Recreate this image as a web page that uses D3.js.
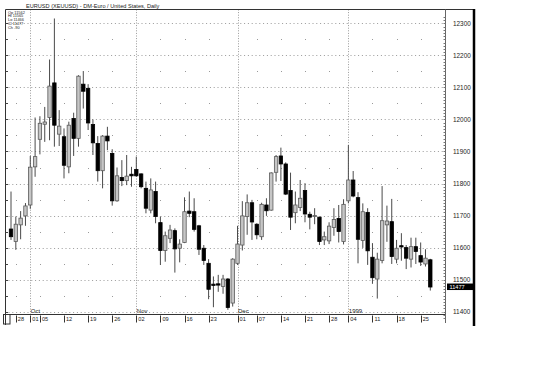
<!DOCTYPE html>
<html><head><meta charset="utf-8">
<script src="https://cdn.jsdelivr.net/npm/d3@7"></script>
<style>body{margin:0;background:#fff}svg{display:block;font-family:"Liberation Sans",Arial,sans-serif}</style>
</head><body><svg id="c" width="548" height="367"></svg>
<script>
const title = "EURUSD (XEUUSD) - DM-Euro / United States, Daily";
const dates = ["1998-09-25",
"1998-09-28","1998-09-29","1998-09-30","1998-10-01","1998-10-02",
"1998-10-05","1998-10-06","1998-10-07","1998-10-08","1998-10-09",
"1998-10-12","1998-10-13","1998-10-14","1998-10-15","1998-10-16",
"1998-10-19","1998-10-20","1998-10-21","1998-10-22","1998-10-23",
"1998-10-26","1998-10-27","1998-10-28","1998-10-29","1998-10-30",
"1998-11-02","1998-11-03","1998-11-04","1998-11-05","1998-11-06",
"1998-11-09","1998-11-10","1998-11-11","1998-11-12","1998-11-13",
"1998-11-16","1998-11-17","1998-11-18","1998-11-19","1998-11-20",
"1998-11-23","1998-11-24","1998-11-25","1998-11-26","1998-11-27",
"1998-11-30","1998-12-01","1998-12-02","1998-12-03","1998-12-04",
"1998-12-07","1998-12-08","1998-12-09","1998-12-10","1998-12-11",
"1998-12-14","1998-12-15","1998-12-16","1998-12-17","1998-12-18",
"1998-12-21","1998-12-22","1998-12-23","1998-12-24","1998-12-25",
"1998-12-28","1998-12-29","1998-12-30","1998-12-31",
"1999-01-04","1999-01-05","1999-01-06","1999-01-07","1999-01-08",
"1999-01-11","1999-01-12","1999-01-13","1999-01-14","1999-01-15",
"1999-01-18","1999-01-19","1999-01-20","1999-01-21","1999-01-22",
"1999-01-25","1999-01-26","1999-01-27"];
const open  = [11658,11619,11671,11699,11733,11852,11938,11985,12006,12114,11954,11946,11852,12003,11941,12110,12097,11984,11925,11840,11948,11894,11746,11819,11809,11829,11844,11830,11785,11717,11775,11678,11591,11629,11653,11598,11616,11714,11712,11668,11598,11551,11486,11487,11479,11502,11427,11551,11608,11697,11740,11673,11634,11733,11717,11835,11886,11861,11778,11709,11725,11778,11704,11697,11695,11624,11621,11663,11691,11619,11746,11811,11756,11622,11710,11570,11502,11560,11671,11681,11564,11606,11600,11564,11603,11575,11549,11562];
const high  = [11775,11697,11714,11739,11886,12006,12010,12039,12187,12315,12029,11972,11993,12021,12138,12151,12110,12000,11948,11951,11977,11907,11850,11873,11889,11852,11884,11832,11806,11816,11806,11697,11650,11671,11660,11626,11757,11775,11754,11671,11608,11564,11510,11515,11515,11505,11567,11668,11745,11766,11749,11676,11740,11754,11835,11889,11912,11866,11834,11775,11811,11801,11712,11723,11697,11650,11679,11723,11733,11751,11920,11839,11773,11738,11723,11614,11584,11792,11731,11752,11624,11645,11608,11631,11631,11616,11595,11565];
const low   = [11624,11593,11626,11668,11721,11821,11891,11930,11935,11915,11917,11816,11832,11886,11915,12034,11967,11889,11806,11785,11904,11731,11743,11792,11795,11790,11821,11785,11707,11707,11676,11546,11556,11614,11522,11554,11614,11695,11650,11577,11546,11439,11414,11462,11456,11406,11416,11546,11591,11640,11624,11626,11624,11699,11715,11806,11808,11764,11655,11676,11714,11679,11657,11673,11608,11608,11611,11637,11616,11610,11738,11757,11551,11599,11546,11487,11441,11551,11618,11549,11551,11559,11533,11538,11549,11543,11541,11466];
const close = [11634,11673,11692,11730,11851,11884,11988,11992,12104,11982,11979,11857,11982,11941,12135,12088,11989,11927,11840,11948,11933,11746,11824,11809,11823,11824,11824,11790,11723,11780,11697,11591,11637,11655,11596,11611,11712,11707,11657,11595,11560,11470,11482,11483,11502,11413,11564,11611,11699,11740,11680,11640,11735,11715,11833,11884,11861,11767,11695,11733,11754,11705,11695,11700,11619,11634,11667,11688,11650,11735,11811,11761,11626,11712,11590,11506,11564,11684,11683,11572,11598,11602,11567,11603,11588,11555,11567,11477];
const priceTicks = [11400,11500,11600,11700,11800,11900,12000,12100,12200,12300];
const weekTicks  = ["1998-09-28","1998-10-01","1998-10-05","1998-10-12","1998-10-19","1998-10-26","1998-11-02","1998-11-09","1998-11-16","1998-11-23","1998-12-01","1998-12-07","1998-12-14","1998-12-21","1998-12-28","1999-01-04","1999-01-11","1999-01-18","1999-01-25"];
const weekLabels = ["28","01","05","12","19","26","02","09","16","23","01","07","14","21","28","04","11","18","25"];
const monthTicks  = ["1998-10-01","1998-11-02","1998-12-01","1999-01-04"];
const monthLabels = ["Oct","Nov","Dec","1999"];
const legendRows = ["Op  11562","Hi  11565","Lo  11466","Cl  11477","Ch      -90"];

const svg = d3.select("#c");
const x = d3.scalePoint().domain(dates).range([11, 430.3]);
const y = d3.scaleLinear().domain([11400, 12300]).range([311.7, 23.3]);
const L = 5.5, R = 445.5, T = 9.5, B = 314;
const data = dates.map((d,i)=>({d, o:open[i], h:high[i], l:low[i], c:close[i]}));

const gridCol = "#9a9a9a";
const grid = svg.append("g");
grid.selectAll("line.h").data(priceTicks).join("line")
  .attr("x1", L+3).attr("x2", R-2).attr("y1", d=>Math.round(y(d))+0.5).attr("y2", d=>Math.round(y(d))+0.5)
  .attr("stroke",gridCol).attr("stroke-width",1).attr("stroke-dasharray","1,2.8");
const halfLevels = d3.range(11450, 12300, 100);
const dotPts = [];
weekTicks.forEach(w=>{ if(!monthTicks.includes(w)) halfLevels.forEach(v=>dotPts.push([x(w), y(v)])); });
grid.selectAll("rect.dot").data(dotPts).join("rect")
  .attr("x", d=>Math.round(d[0])).attr("y", d=>Math.round(d[1])).attr("width",1).attr("height",1).attr("fill",gridCol);
grid.selectAll("line.m").data(monthTicks).join("line")
  .attr("x1", d=>Math.round(x(d))+0.5).attr("x2", d=>Math.round(x(d))+0.5).attr("y1", T).attr("y2", B)
  .attr("stroke",gridCol).attr("stroke-dasharray","1,1.6");

const fr = svg.append("g").attr("stroke","#333").attr("fill","none");
fr.append("line").attr("x1",L).attr("x2",474).attr("y1",T).attr("y2",T);
fr.append("line").attr("x1",L).attr("x2",L).attr("y1",T).attr("y2",325);
fr.append("line").attr("x1",L).attr("x2",R).attr("y1",B+0.5).attr("y2",B+0.5);
fr.append("line").attr("x1",R).attr("x2",R).attr("y1",T).attr("y2",323).attr("stroke","#666");
fr.append("rect").attr("x",3.5).attr("y",314.5).attr("width",6.5).attr("height",9.5);
svg.append("line").attr("x1",474).attr("x2",474).attr("y1",9).attr("y2",326).attr("stroke","#000").attr("stroke-width",2.5);

svg.append("g").selectAll("line").data(d3.range(11400,12301,50)).join("line")
  .attr("x1",L).attr("x2",L+2.5).attr("y1",d=>Math.round(y(d))+0.5).attr("y2",d=>Math.round(y(d))+0.5).attr("stroke","#444");
svg.append("g").selectAll("line").data(d3.range(11380,12321,10)).join("line")
  .attr("x1",R-2).attr("x2",R).attr("y1",d=>Math.round(y(d))+0.5).attr("y2",d=>Math.round(y(d))+0.5).attr("stroke","#777");

const yAxis = d3.axisRight(y).tickValues(priceTicks).tickSize(0).tickPadding(7.5).tickFormat(d3.format("d"));
const ya = svg.append("g").attr("transform",`translate(${R},0)`).call(yAxis);
ya.select(".domain").remove();
ya.selectAll("text").attr("font-size",6.4).attr("fill","#222").attr("font-family","Liberation Sans, Arial, sans-serif");

const xg = svg.append("g");
xg.selectAll("line").data(weekTicks).join("line")
  .attr("x1",d=>Math.round(x(d))+0.5).attr("x2",d=>Math.round(x(d))+0.5).attr("y1",315.5).attr("y2",322.5).attr("stroke","#333");
xg.selectAll("text").data(weekTicks).join("text")
  .attr("x",d=>x(d)+2).attr("y",321.3).attr("font-size",5.6).attr("fill","#222").text((d,i)=>weekLabels[i]);
svg.append("g").selectAll("text").data(monthTicks).join("text")
  .attr("x",d=>x(d)+0.5).attr("y",313).attr("font-size",6).attr("fill","#222").text((d,i)=>monthLabels[i]);

const cg = svg.append("g");
cg.selectAll("line").data(data).join("line")
  .attr("x1",d=>x(d.d)).attr("x2",d=>x(d.d)).attr("y1",d=>y(d.h)).attr("y2",d=>y(d.l))
  .attr("stroke","#4a4a4a").attr("stroke-width",1);
const bw = 3.4;
cg.selectAll("rect").data(data).join("rect")
  .attr("x",d=>x(d.d)-bw/2).attr("width",bw)
  .attr("y",d=>y(Math.max(d.o,d.c))).attr("height",d=>Math.max(1,Math.abs(y(d.o)-y(d.c))))
  .attr("fill",d=>d.c<d.o?"#000":"#c6c6c6")
  .attr("stroke",d=>d.c<d.o?"#000":"#5a5a5a").attr("stroke-width",0.8);

const last = close[close.length-1];
svg.append("rect").attr("x",447).attr("y",y(last)-3.5).attr("width",26).attr("height",6.5).attr("fill","#000");
svg.append("text").attr("x",449.5).attr("y",y(last)+2).attr("font-size",5.6).attr("fill","#fff").text(d3.format("d")(last));

svg.append("text").attr("x",26).attr("y",7.6).attr("font-size",5.6).attr("fill","#222").text(title);
svg.append("g").selectAll("text").data(legendRows).join("text")
  .attr("x",8).attr("y",(d,i)=>13.5+i*3.8).attr("font-size",3.9).attr("fill","#222").text(d=>d);
</script></body></html>
